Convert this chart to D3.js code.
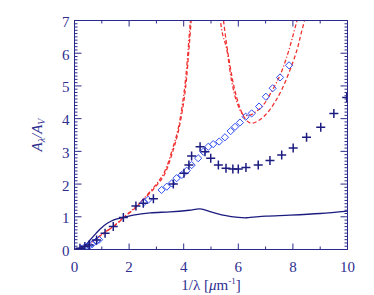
<!DOCTYPE html>
<html>
<head>
<meta charset="utf-8">
<script src="https://cdn.jsdelivr.net/npm/d3@7"></script>
<style>
  html, body { margin: 0; padding: 0; background: #fff; }
  text { font-family: "Liberation Serif", "DejaVu Serif", serif; fill: #2e2e90; }
</style>
</head>
<body>
<svg id="chart" width="374" height="295"></svg>
<script>
// solid extinction curve
const curveX = [0, 0.3, 0.57, 0.93, 1.2, 1.42, 1.79, 2.15, 2.77, 3.5, 4.2, 4.6, 5.0, 5.5, 6.0, 6.3, 7.0, 7.9, 9.0, 10];
const curveY = [-0.03, 0.05, 0.29, 0.62, 0.8, 0.9, 0.98, 1.05, 1.12, 1.15, 1.2, 1.24, 1.15, 1.04, 0.98, 0.97, 1.02, 1.05, 1.1, 1.17];

// plus markers
const plusX = [0.2, 0.38, 0.54, 0.81, 1.12, 1.42, 1.79, 2.25, 2.52, 2.89, 3.62, 4.01, 4.19, 4.29, 4.6, 4.78, 4.99, 5.27, 5.55, 5.8, 6.0, 6.28, 6.73, 7.16, 7.59, 8.01, 8.5, 9.02, 9.5, 9.97];
const plusY = [0.04, 0.09, 0.14, 0.29, 0.5, 0.7, 0.98, 1.33, 1.41, 1.55, 2.0, 2.33, 2.58, 2.86, 3.14, 2.99, 2.79, 2.58, 2.48, 2.46, 2.46, 2.51, 2.58, 2.72, 2.89, 3.1, 3.43, 3.74, 4.16, 4.65];

// diamond markers
const diaX = [0.25, 0.35, 0.45, 0.55, 0.65, 0.8, 0.9, 2.55, 2.7, 3.19, 3.38, 3.56, 3.74, 3.93, 4.11, 4.29, 4.53, 4.72, 4.9, 5.08, 5.3, 5.51, 5.72, 5.88, 6.06, 6.27, 6.49, 6.76, 7.01, 7.26, 7.53, 7.86];
const diaY = [0.02, 0.05, 0.08, 0.12, 0.17, 0.25, 0.3, 1.45, 1.52, 1.82, 1.92, 2.02, 2.18, 2.28, 2.41, 2.58, 2.79, 2.99, 3.14, 3.22, 3.3, 3.43, 3.62, 3.75, 3.88, 4.06, 4.16, 4.37, 4.67, 4.93, 5.26, 5.63];

// red model curves: dashed and dash-dot, each with two branches
const dashAX = [0, 0.5, 1.0, 1.5, 1.8, 2.2, 2.5, 3.0, 3.3, 3.6, 3.8, 4.0, 4.1, 4.2, 4.3];
const dashAY = [0, 0.15, 0.45, 0.75, 0.97, 1.25, 1.5, 1.95, 2.3, 3.0, 3.6, 4.5, 5.2, 6.2, 7.3];
const dashBX = [5.43, 5.55, 5.7, 5.85, 6.05, 6.25, 6.45, 6.7, 7.0, 7.3, 7.6, 7.9, 8.15, 8.3, 8.46];
const dashBY = [7.2, 6.4, 5.6, 4.95, 4.35, 4.0, 3.86, 3.92, 4.12, 4.45, 4.9, 5.5, 6.1, 6.6, 7.1];
const dotAX = [0, 0.5, 1.0, 1.5, 1.8, 2.2, 2.5, 3.0, 3.3, 3.6, 3.8, 3.98, 4.08, 4.18, 4.27];
const dotAY = [0, 0.16, 0.46, 0.76, 0.98, 1.27, 1.52, 2.0, 2.38, 3.1, 3.7, 4.6, 5.3, 6.3, 7.3];
const dotBX = [5.31, 5.42, 5.57, 5.76, 5.95, 6.18, 6.4, 6.65, 6.92, 7.2, 7.53, 7.8, 8.01, 8.18];
const dotBY = [7.2, 6.6, 6.15, 5.13, 4.5, 4.12, 4.1, 4.22, 4.42, 4.8, 5.33, 5.95, 6.56, 7.1];

const xTicks = [0, 2, 4, 6, 8, 10];
const yTicks = [0, 1, 2, 3, 4, 5, 6, 7];

const navy = '#2a2a8c';
const margin = { left: 74.5, right: 26.5, top: 20.5, bottom: 45.5 };
const width = 374, height = 295;

const svg = d3.select('#chart');
const x = d3.scaleLinear().domain([0, 10]).range([margin.left, width - margin.right]);
const y = d3.scaleLinear().domain([0, 7]).range([height - margin.bottom, margin.top]);

svg.append('defs').append('clipPath').attr('id', 'clip')
  .append('rect')
  .attr('x', x(0)).attr('y', y(7))
  .attr('width', x(10) - x(0)).attr('height', y(0) - y(7));

const plot = svg.append('g').attr('clip-path', 'url(#clip)');
const line = d3.line().x((d) => x(d[0])).y((d) => y(d[1]));
const zip = (a, b) => a.map((v, i) => [v, b[i]]);

// red model curves
[[dashAX, dashAY], [dashBX, dashBY]].forEach(([a, b]) => {
  plot.append('path')
    .attr('d', line.curve(d3.curveCatmullRom)(zip(a, b)))
    .attr('fill', 'none').attr('stroke', '#f03030').attr('stroke-width', 1.3)
    .attr('stroke-dasharray', '4,2.5');
});
[[dotAX, dotAY], [dotBX, dotBY]].forEach(([a, b]) => {
  plot.append('path')
    .attr('d', line.curve(d3.curveCatmullRom)(zip(a, b)))
    .attr('fill', 'none').attr('stroke', '#f03030').attr('stroke-width', 1.3)
    .attr('stroke-dasharray', '4,2,1.2,2');
});

// solid curve
plot.append('path')
  .attr('d', line.curve(d3.curveCatmullRom)(zip(curveX, curveY)))
  .attr('fill', 'none').attr('stroke', '#1c1c80').attr('stroke-width', 1.3);

// diamonds
plot.selectAll('.dia').data(zip(diaX, diaY)).join('path')
  .attr('class', 'dia')
  .attr('transform', (d) => `translate(${x(d[0])},${y(d[1])})`)
  .attr('d', 'M0,-3.6L3.6,0L0,3.6L-3.6,0Z')
  .attr('fill', 'none').attr('stroke', '#3050f0').attr('stroke-width', 1);

// plus signs
plot.selectAll('.plus').data(zip(plusX, plusY)).join('path')
  .attr('class', 'plus')
  .attr('transform', (d) => `translate(${x(d[0])},${y(d[1])})`)
  .attr('d', 'M-4.5,0H4.5M0,-4.5V4.5')
  .attr('fill', 'none').attr('stroke', '#1c1c80').attr('stroke-width', 1.5);

// frame and ticks
const axes = svg.append('g').attr('stroke', navy).attr('stroke-width', 1).attr('fill', 'none');
axes.append('rect')
  .attr('x', x(0)).attr('y', y(7))
  .attr('width', x(10) - x(0)).attr('height', y(0) - y(7));

d3.range(0, 11, 1).forEach((v) => {
  const len = v % 2 === 0 ? 6 : 3;
  axes.append('line').attr('x1', x(v)).attr('x2', x(v)).attr('y1', y(0)).attr('y2', y(0) - len);
  axes.append('line').attr('x1', x(v)).attr('x2', x(v)).attr('y1', y(7)).attr('y2', y(7) + len);
});
d3.range(0, 71, 1).forEach((i) => {
  const v = i / 10;
  const len = i % 10 === 0 ? 7 : 3;
  axes.append('line').attr('x1', x(0)).attr('x2', x(0) + len).attr('y1', y(v)).attr('y2', y(v));
  axes.append('line').attr('x1', x(10)).attr('x2', x(10) - len).attr('y1', y(v)).attr('y2', y(v));
});

// tick labels
svg.append('g').selectAll('text').data(xTicks).join('text')
  .attr('x', (d) => x(d)).attr('y', y(0) + 22)
  .attr('text-anchor', 'middle').attr('font-size', 15)
  .text((d) => d);
svg.append('g').selectAll('text').data(yTicks).join('text')
  .attr('x', x(0) - 5).attr('y', (d) => y(d) + 6.5)
  .attr('text-anchor', 'end').attr('font-size', 15)
  .text((d) => d);

// axis titles
const xt = svg.append('text')
  .attr('x', x(5)).attr('y', y(0) + 40)
  .attr('text-anchor', 'middle').attr('font-size', 15);
xt.append('tspan').text('1/λ  [');
xt.append('tspan').attr('font-style', 'italic').text('μ');
xt.append('tspan').text('m');
xt.append('tspan').attr('font-size', 9).attr('dy', -6).text('-1');
xt.append('tspan').attr('dy', 6).text(']');

const yt = svg.append('text')
  .attr('transform', `translate(${x(0) - 33},${y(3.5)}) rotate(-90)`)
  .attr('text-anchor', 'middle').attr('font-size', 15).attr('font-style', 'italic');
yt.append('tspan').text('A');
yt.append('tspan').attr('font-size', 10).attr('dy', 3).text('λ');
yt.append('tspan').attr('dy', -3).text('/A');
yt.append('tspan').attr('font-size', 10).attr('dy', 3).text('V');
</script>
</body>
</html>
